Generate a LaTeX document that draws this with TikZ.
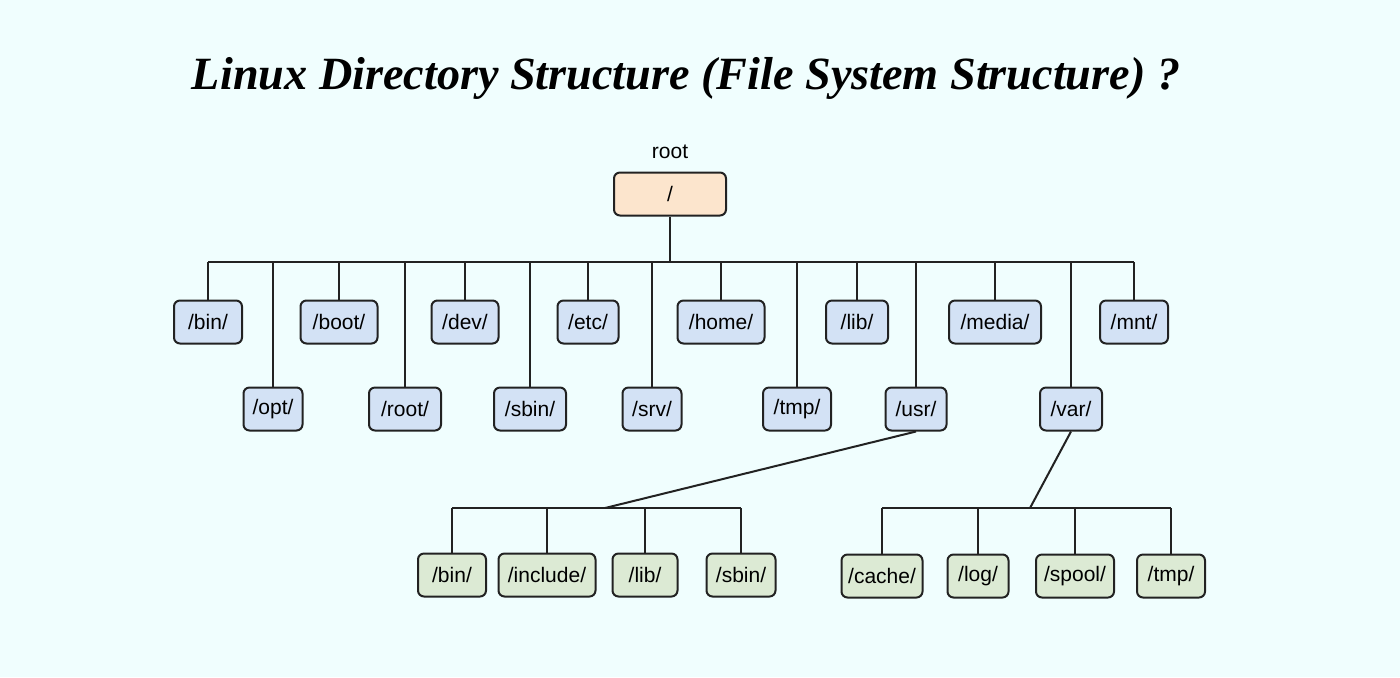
\documentclass[tikz,border=0pt]{standalone}
\usepackage{fontspec}
\setmainfont{Liberation Sans}
\newfontfamily\titlefont{Liberation Serif}
\definecolor{bg}{HTML}{F0FEFE}
\definecolor{rootc}{HTML}{FCE5CD}
\definecolor{bluec}{HTML}{D3E2F5}
\definecolor{greenc}{HTML}{DCEAD4}
\definecolor{edge}{HTML}{222222}
\begin{document}
\begin{tikzpicture}[x=0.5pt,y=-0.5pt,
  dbox/.style={draw=edge,line width=1pt,rounded corners=3pt,minimum height=21.5pt,inner sep=0pt,font=\fontsize{10.5}{12}\selectfont},
  rbox/.style={dbox,fill=rootc},
  bbox/.style={dbox,fill=bluec},
  gbox/.style={dbox,fill=greenc},
  conn/.style={draw=edge,line width=1pt}]
\fill[bg] (0,0) rectangle (1400,677);
\useasboundingbox (0,0) rectangle (1400,677);
\node (title) at (686,78) {\resizebox{494pt}{!}{\titlefont\bfseries\itshape Linux Directory Structure (File System Structure) ?}};
\node (rootlbl) at (670,152) {\fontsize{10.5}{12}\selectfont root};
\node[rbox,minimum width=56pt] (root) at (670,194) {/};
% row 1
\node[bbox,minimum width=34pt] (bin) at (208,322) {/bin/};
\node[bbox,minimum width=38.5pt] (boot) at (339,322) {/boot/};
\node[bbox,minimum width=33.5pt] (dev) at (465,322) {/dev/};
\node[bbox,minimum width=30.5pt] (etc) at (588,322) {/etc/};
\node[bbox,minimum width=43.5pt] (home) at (721,322) {/home/};
\node[bbox,minimum width=31pt] (lib) at (857,322) {/lib/};
\node[bbox,minimum width=46pt] (media) at (995,322) {/media/};
\node[bbox,minimum width=34pt] (mnt) at (1134,322) {/mnt/};
% row 2
\node[bbox,minimum width=29.5pt] (opt) at (273,409) {/opt/};
\node[bbox,minimum width=36pt] (rootd) at (405,409) {/root/};
\node[bbox,minimum width=36pt] (sbin) at (530,409) {/sbin/};
\node[bbox,minimum width=29.5pt] (srv) at (652,409) {/srv/};
\node[bbox,minimum width=34pt] (tmp) at (797,409) {/tmp/};
\node[bbox,minimum width=30.5pt] (usr) at (916,409) {/usr/};
\node[bbox,minimum width=31pt] (var) at (1071,409) {/var/};
% row 3
\node[gbox,minimum width=34pt] (ubin) at (452,575) {/bin/};
\node[gbox,minimum width=48.5pt] (uinc) at (547,575) {/include/};
\node[gbox,minimum width=32.5pt] (ulib) at (645,575) {/lib/};
\node[gbox,minimum width=34.5pt] (usbin) at (741,575) {/sbin/};
\node[gbox,minimum width=40.5pt] (vcache) at (882,576) {/cache/};
\node[gbox,minimum width=30.5pt] (vlog) at (978,576) {/log/};
\node[gbox,minimum width=39pt] (vspool) at (1075,576) {/spool/};
\node[gbox,minimum width=34pt] (vtmp) at (1171,576) {/tmp/};
% connectors
\coordinate (busL) at (208,262);
\coordinate (busR) at (1134,262);
\draw[conn] (busL) -- (busR);
\draw[conn] (root.south) -- (root.south |- busL);
\foreach \n in {bin,boot,dev,etc,home,lib,media,mnt,opt,rootd,sbin,srv,tmp,usr,var}
  \draw[conn] (\n.north) -- (\n.north |- busL);
\coordinate (ubusL) at (452,508);
\coordinate (ubusR) at (741,508);
\coordinate (ujoin) at (605,508);
\draw[conn] (ubusL) -- (ubusR);
\draw[conn] (usr.south) -- (ujoin);
\foreach \n in {ubin,uinc,ulib,usbin}
  \draw[conn] (\n.north) -- (\n.north |- ubusL);
\coordinate (vbusL) at (882,508);
\coordinate (vbusR) at (1171,508);
\coordinate (vjoin) at (1030,508);
\draw[conn] (vbusL) -- (vbusR);
\draw[conn] (var.south) -- (vjoin);
\foreach \n in {vcache,vlog,vspool,vtmp}
  \draw[conn] (\n.north) -- (\n.north |- vbusL);
\end{tikzpicture}
\end{document}
